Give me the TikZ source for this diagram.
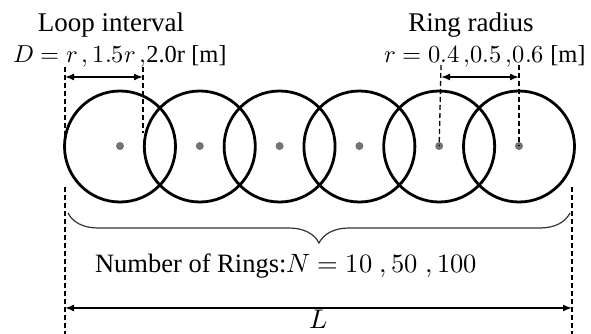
\documentclass[tikz,border=0pt]{standalone}
\usepackage{fontspec}
\usepackage{unicode-math}
\setmainfont{Liberation Serif}
\setmathfont{Latin Modern Math}
\usetikzlibrary{arrows.meta,decorations.pathreplacing}
\tikzset{
  ring/.style={circle,draw=black,line width=2.8pt,minimum size=111pt,inner sep=0pt},
  centerdot/.style={circle,fill=black!55,draw=none,minimum size=8pt,inner sep=0pt},
  dashline/.style={line width=1.3pt,dash pattern=on 5pt off 3pt},
  dimarrow/.style={line width=1.6pt,{Latex[length=9pt,width=7pt]}-{Latex[length=9pt,width=7pt]}},
  lbl/.style={font=\fontsize{27}{30}\selectfont,inner sep=0pt,anchor=base},
  vlbl/.style={font=\fontsize{24.5}{28}\selectfont,inner sep=0pt,anchor=base},
  bracestyle/.style={line width=1.2pt,draw=black!80,decorate,decoration={brace,amplitude=30pt,mirror}}
}
\begin{document}
\begin{tikzpicture}[x=1pt,y=-1pt]
\useasboundingbox (0,0) rectangle (591,334);
% rings and centres
\foreach \i/\cx in {1/120,2/199.8,3/279.6,4/359.4,5/439.2,6/519}{
  \node[ring] (r\i) at (\cx,146.5) {};
  \node[centerdot] (c\i) at (\cx,146) {};
}
% top left dimension
\coordinate (la) at (65,67);
\coordinate (lb) at (65,145);
\coordinate (ma) at (143,67);
\coordinate (mb) at (143,133);
\draw[dashline] (la) -- (lb);
\draw[dashline] (ma) -- (mb);
\coordinate (aL) at (65,77);
\coordinate (aR) at (143,77);
\draw[dimarrow] (aL) -- (aR);
% top right dimension
\coordinate (ra) at (441,65);
\coordinate (sa) at (519,65);
\draw[dashline] (ra) -- (c5.center);
\draw[dashline] (sa) -- (c6.center);
\coordinate (bL) at (441,77);
\coordinate (bR) at (519,77);
\draw[dimarrow] (bL) -- (bR);
% labels
\node[lbl] (loop) at (111,32) {Loop interval};
\node[vlbl] (dval) at (120,63) {$D=r\,{,}\,1.5r\,{,}$2.0r [m]};
\node[lbl] (ring) at (471,32) {Ring radius};
\node[vlbl] (rval) at (485,63) {$r=0.4\,{,}0.5\,{,}0.6$ [m]};
% bottom
\coordinate (ba) at (65,187);
\coordinate (bb) at (65,334);
\coordinate (bc) at (572,187);
\coordinate (bd) at (572,334);
\draw[dashline] (ba) -- (bb);
\draw[dashline] (bc) -- (bd);
\coordinate (brL) at (68,213);
\coordinate (brR) at (570,213);
\draw[bracestyle] (brL) -- (brR);
\node[vlbl] (num) at (286,272) {\fontsize{26.5}{30}\selectfont Number of Rings:$N=10\;{,}\,50\;{,}\,100$};
\coordinate (Ls) at (65,308);
\coordinate (Le) at (572,308);
\draw[dimarrow] (Ls) -- (Le);
\node[lbl] (Llab) at (319,328) {$L$};
\end{tikzpicture}
\end{document}
